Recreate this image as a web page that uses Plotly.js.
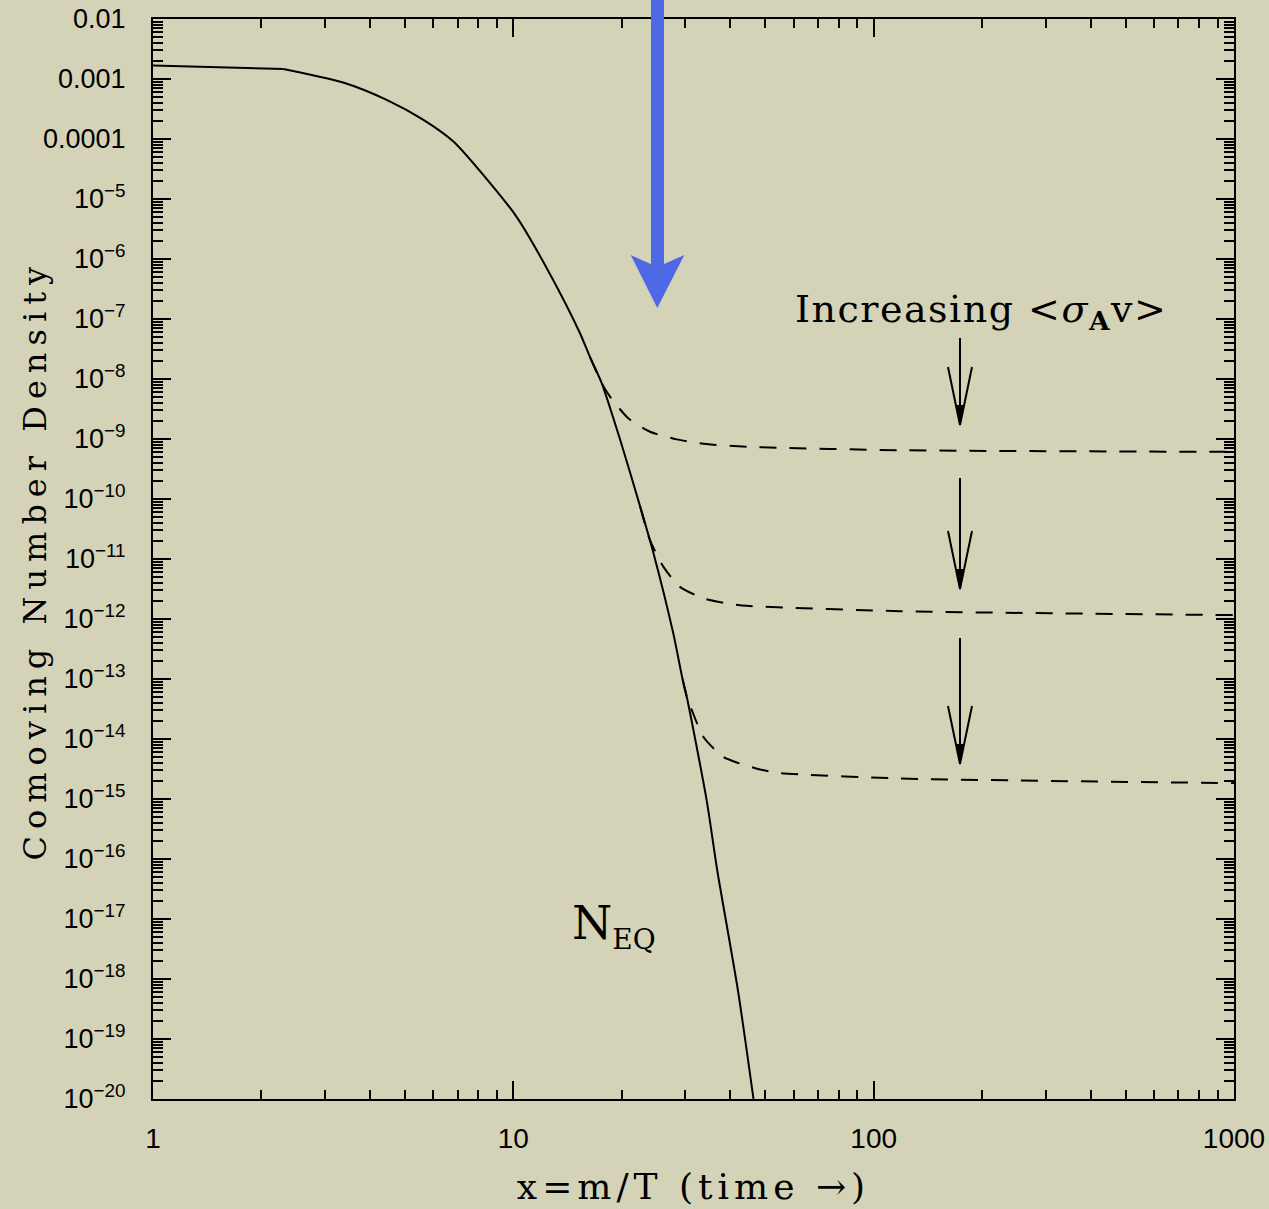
<!DOCTYPE html>
<html><head><meta charset="utf-8">
<script src="https://cdn.plot.ly/plotly-3.0.1.min.js"></script>
<style>html,body{margin:0;padding:0;background:#d4d3b7;}</style>
</head><body>
<div id="chart" style="width:1269px;height:1209px;"></div>
<script>
// Equilibrium number density N_EQ (solid)
const eqX = [1, 2.30, 3.37, 4.45, 5.63, 6.82, 8.62, 10.2, 12.6, 15.3, 16.3, 17.6, 19.8, 22.5, 24.5, 27.8, 29.5, 30.3, 34.4, 36.8, 42.0, 46.4];
const eqY = [1.68e-3, 1.47e-3, 8.75e-4, 4.5e-4, 2.09e-4, 9.08e-5, 1.84e-5, 5.09e-6, 5.8e-7, 5.85e-8, 2.36e-8, 8.47e-9, 9.6e-10, 7.4e-11, 1.24e-11, 5.7e-13, 9.8e-14, 5.0e-14, 9.5e-16, 6.5e-17, 6.5e-19, 1e-20];
// Freeze-out curves (dashed), increasing <sigma_A v>
const frzAX = [16.3, 17.6, 18.55, 20.85, 23.95, 28.4, 34.4, 44.4, 118, 1000];
const frzAY = [2.36e-8, 8.47e-9, 5.07e-9, 2.21e-9, 1.32e-9, 9.86e-10, 8.24e-10, 7.43e-10, 6.5e-10, 6.1e-10];
const frzBX = [22.5, 23.95, 26.1, 29.0, 33.7, 39.1, 44.4, 118, 1000];
const frzBY = [7.4e-11, 2.06e-11, 7.4e-12, 3.43e-12, 2.2e-12, 1.82e-12, 1.66e-12, 1.35e-12, 1.16e-12];
const frzCX = [29.5, 30.3, 31.3, 33.7, 38.3, 47.4, 55.0, 118, 1000];
const frzCY = [9.8e-14, 5.0e-14, 3.0e-14, 1.08e-14, 5.0e-15, 3.2e-15, 2.71e-15, 2.2e-15, 1.84e-15];

const xTickVals = [1, 10, 100, 1000];
const xTickText = ['1', '10', '100', '1000'];
const yTickVals = [1e-2,1e-3,1e-4,1e-5,1e-6,1e-7,1e-8,1e-9,1e-10,1e-11,1e-12,1e-13,1e-14,1e-15,1e-16,1e-17,1e-18,1e-19,1e-20];
const yTickText = ['0.01','0.001','0.0001','10<sup>−5</sup>','10<sup>−6</sup>','10<sup>−7</sup>','10<sup>−8</sup>','10<sup>−9</sup>','10<sup>−10</sup>','10<sup>−11</sup>','10<sup>−12</sup>','10<sup>−13</sup>','10<sup>−14</sup>','10<sup>−15</sup>','10<sup>−16</sup>','10<sup>−17</sup>','10<sup>−18</sup>','10<sup>−19</sup>','10<sup>−20</sup>'];

const L = 153, R = 1234, T = 19, B = 1099;
const px = p => (p - L) / (R - L);
const py = p => (B - p) / (B - T);

const dashStyle = {color: '#000', width: 2, dash: '17px,13px', shape: 'spline', smoothing: 0.6};
const traces = [
  {x: eqX.slice(0, 2), y: eqY.slice(0, 2), mode: 'lines', line: {color: '#000', width: 2}, name: 'N_EQ'},
  {x: eqX.slice(1), y: eqY.slice(1), mode: 'lines', line: {color: '#000', width: 2, shape: 'spline', smoothing: 0.7}, name: 'N_EQ'},
  {x: frzAX, y: frzAY, mode: 'lines', line: dashStyle},
  {x: frzBX, y: frzBY, mode: 'lines', line: dashStyle},
  {x: frzCX, y: frzCY, mode: 'lines', line: dashStyle}
];

const axisCommon = {
  type: 'log', ticks: 'inside', tickwidth: 2, tickcolor: '#000',
  showline: true, linewidth: 2, linecolor: '#000', mirror: 'allticks',
  showgrid: false, zeroline: false, automargin: false, tickmode: 'array'
};

const shapes = [];
// blue arrow
shapes.push({type: 'rect', xref: 'paper', yref: 'paper', x0: px(651), x1: px(664), y0: py(268), y1: py(-5), fillcolor: '#4f69e6', line: {width: 0}});
shapes.push({type: 'path', xref: 'paper', yref: 'paper', fillcolor: '#4f69e6', line: {width: 0},
  path: `M ${px(630.7)},${py(255)} L ${px(657.3)},${py(308)} L ${px(684.3)},${py(255)} L ${px(657.3)},${py(267)} Z`});
// small black arrows
[[338, 425], [478, 589], [638, 764]].forEach(([t0, t1]) => {
  const cx = 960;
  shapes.push({type: 'line', xref: 'paper', yref: 'paper', x0: px(cx), x1: px(cx), y0: py(t0), y1: py(t1 - 3), line: {color: '#000', width: 2}});
  shapes.push({type: 'path', xref: 'paper', yref: 'paper', line: {color: '#000', width: 2},
    path: `M ${px(cx - 12)},${py(t1 - 58)} L ${px(cx)},${py(t1)} L ${px(cx + 12)},${py(t1 - 58)}`});
  shapes.push({type: 'path', xref: 'paper', yref: 'paper', fillcolor: '#000', line: {width: 0},
    path: `M ${px(cx - 4)},${py(t1 - 20)} L ${px(cx)},${py(t1)} L ${px(cx + 4)},${py(t1 - 20)} Z`});
});

const serif = 'DejaVu Serif, Liberation Serif, serif';
const layout = {
  width: 1269, height: 1209,
  margin: {l: 153, r: 35, t: 19, b: 110, pad: 0},
  paper_bgcolor: '#d4d3b7', plot_bgcolor: '#d4d3b7', showlegend: false,
  font: {family: 'Liberation Sans, Arial, sans-serif', color: '#000', size: 28},
  xaxis: Object.assign({}, axisCommon, {
    range: [0, 3], tickvals: xTickVals, ticktext: xTickText, ticklen: 18, ticklabelstandoff: 13,
    tickfont: {size: 28},
    minor: {tickmode: 'linear', tick0: 0, dtick: 'D1', ticks: 'inside', ticklen: 9, tickwidth: 2, tickcolor: '#000', showgrid: false},
    title: {text: 'x=m/T (time →)', font: {family: serif, size: 36, color: '#000'}, standoff: 21}
  }),
  yaxis: Object.assign({}, axisCommon, {
    range: [-20, -2], tickvals: yTickVals, ticktext: yTickText, ticklen: 18, ticklabelstandoff: 20,
    tickfont: {size: 27},
    minor: {tickmode: 'linear', tick0: 0, dtick: 'D1', ticks: 'inside', ticklen: 10, tickwidth: 2, tickcolor: '#000', showgrid: false}
  }),
  shapes: shapes,
  annotations: [
    {text: 'Comoving Number Density', xref: 'paper', yref: 'paper', x: px(35), y: py(560), textangle: -90,
     showarrow: false, xanchor: 'center', yanchor: 'middle', font: {family: serif, size: 32, color: '#000'}},
    {text: 'Increasing &lt;<i>σ</i><sub><b>A</b></sub>v&gt;', xref: 'paper', yref: 'paper', x: px(981), y: py(312),
     showarrow: false, xanchor: 'center', yanchor: 'middle', font: {family: serif, size: 38, color: '#000'}},
    {text: 'N<sub><span style="font-size:28px">EQ</span></sub>', xref: 'paper', yref: 'paper', x: px(570), y: py(926),
     showarrow: false, xanchor: 'left', yanchor: 'middle', font: {family: serif, size: 46, color: '#000'}}
  ]
};

Plotly.newPlot('chart', traces, layout, {displayModeBar: false, staticPlot: true}).then(() => {
  document.querySelectorAll('.g-xtitle text').forEach(e => e.style.letterSpacing = '5px');
  const ann = document.querySelectorAll('.annotation');
  ann.forEach(a => {
    const idx = a.getAttribute('data-index');
    const t = a.querySelector('text');
    if (!t) return;
    if (idx === '0') t.style.letterSpacing = '7px';
    if (idx === '1') t.style.letterSpacing = '1.5px';
  });
});
</script>
</body></html>
